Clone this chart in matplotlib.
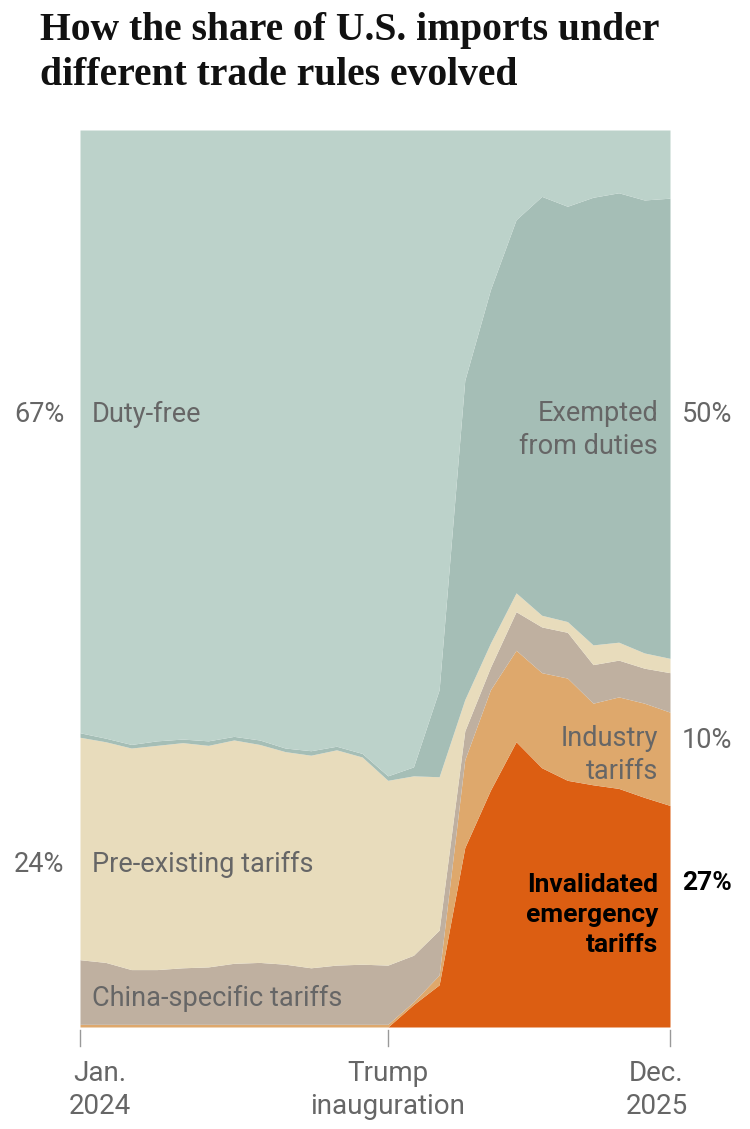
import numpy as np
import matplotlib.pyplot as plt

# Monthly, Jan 2024 .. Dec 2025; cumulative tops of each layer in % of imports
months = np.arange(24)
emergency_top = [0, 0, 0, 0, 0, 0, 0, 0, 0, 0, 0, 0, 0, 2.5, 4.7, 20.0,
                 26.4, 31.8, 28.9, 27.5, 27.0, 26.6, 25.6, 24.7]
industry_top = [0.3] * 13 + [2.8, 5.8, 29.8, 37.6, 42.0, 39.5, 38.9, 36.1, 36.8, 36.1, 35.1]
china_top = [7.5, 7.2, 6.4, 6.4, 6.6, 6.7, 7.1, 7.2, 7.0, 6.6, 6.9, 7.0, 6.9, 8.0, 10.8,
             33.0, 40.1, 46.3, 44.6, 44.0, 40.4, 40.9, 40.0, 39.5]
preexisting_top = [32.3, 31.8, 31.1, 31.4, 31.7, 31.4, 32.0, 31.5, 30.7, 30.3, 30.9, 30.1,
                   27.5, 28.0, 27.9, 36.5, 42.8, 48.4, 45.9, 45.2, 42.6, 42.9, 41.7, 41.1]
exempted_top = [32.8, 32.2, 31.5, 31.9, 32.1, 31.9, 32.4, 32.0, 31.1, 30.8, 31.3, 30.5,
                28.0, 29.0, 37.6, 72.1, 82.2, 90.0, 92.6, 91.5, 92.5, 93.0, 92.2, 92.4]
dutyfree_top = [100] * 24

layers = [emergency_top, industry_top, china_top, preexisting_top, exempted_top, dutyfree_top]
colors = ['#dc5e12', '#dea86c', '#bfb0a0', '#e8dcbc', '#a5beb6', '#bcd2ca']

fig = plt.figure(figsize=(7.5, 11.29), dpi=100)
ax = fig.add_axes([80 / 750, 1 - 1027 / 1129, 590 / 750, 897 / 1129])
bottom = np.zeros(24)
for top, c in zip(layers, colors):
    top = np.array(top, dtype=float)
    ax.fill_between(months, bottom, top, color=c, lw=0)
    bottom = top
ax.set_xlim(0, 23)
ax.set_ylim(0, 100)
ax.axis('off')

fs = 'Roboto'
gray = '#666666'
fig.text(40 / 750, 1 - 12 / 1129, 'How the share of U.S. imports under\ndifferent trade rules evolved',
         family='Liberation Serif', weight='bold', fontsize=28.5, va='top', ha='left',
         linespacing=1.3, color='#111111')


def px(x, y, s, size=19.5, **kw):
    fig.text(x / 750, 1 - y / 1129, s, family=fs, fontsize=size, va='center', **kw)


px(92, 414, 'Duty-free', color=gray)
px(64, 414, '67%', color=gray, ha='right')
px(658, 430, 'Exempted\nfrom duties', color=gray, ha='right', linespacing=1.3)
px(682, 414, '50%', color=gray)
px(658, 755, 'Industry\ntariffs', color=gray, ha='right', linespacing=1.3)
px(682, 740, '10%', color=gray)
px(92, 864, 'Pre-existing tariffs', color=gray)
px(64, 864, '24%', color=gray, ha='right')
px(92, 998, 'China-specific tariffs', color=gray)
px(658, 915, 'Invalidated\nemergency\ntariffs', size=19, color='black', ha='right', weight='bold',
   linespacing=1.3)
px(682, 883, '27%', size=19, color='black', weight='bold')

for x, s in [(80, 'Jan.\n2024'), (388, 'Trump\ninauguration'), (670, 'Dec.\n2025')]:
    fig.add_artist(plt.Line2D([x / 750, x / 750], [1 - 1030 / 1129, 1 - 1046 / 1129],
                              color='#999999', lw=1))
    off = 0.026 if x == 80 else -0.018 if x == 670 else 0
    fig.text(x / 750 + off, 1 - 1090 / 1129, s,
             family=fs, fontsize=20, color=gray, ha='center', va='center', linespacing=1.3)

fig.savefig('out.png', dpi=100)
